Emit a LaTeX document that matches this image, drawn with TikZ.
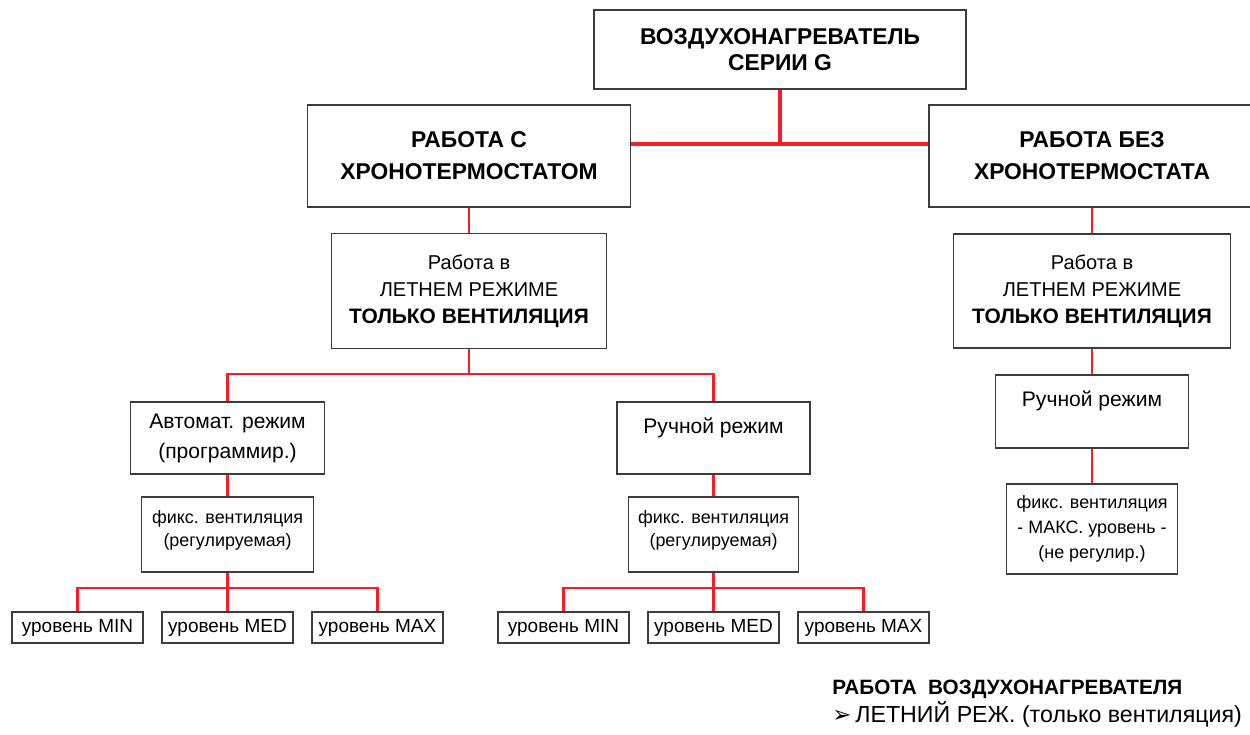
\documentclass[tikz,border=0pt]{standalone}
\usepackage{fontspec}
\setmainfont{Liberation Sans}
\newfontfamily\symfont{DejaVu Sans}
\definecolor{linkred}{RGB}{245,30,40}
\definecolor{boxline}{RGB}{60,60,60}

\begin{document}
\begin{tikzpicture}[
    box/.style={
        draw=boxline, line width=1.1pt, rectangle, fill=white,
        align=center, inner sep=0pt
    },
    link/.style={draw=linkred, line width=1.4pt},
    trunk/.style={draw=linkred, line width=1.8pt},
    level/.style={box, minimum width=2.62cm, minimum height=0.62cm,
        font=\fontsize{10.8}{13}\selectfont}
]

\useasboundingbox (0,0) rectangle (25,-14.68);

% -------------------------
% Top levels
% -------------------------

% 1. Heater (top)
\node[box, minimum width=7.44cm, minimum height=1.58cm,
      font=\fontsize{13}{14.8}\selectfont\bfseries] (Heater) at (15.6,-0.99) {
    ВОЗДУХОНАГРЕВАТЕЛЬ\\СЕРИИ G
};

% 2. With / without chronothermostat
\node[box, minimum width=6.46cm, minimum height=2.04cm,
      font=\fontsize{13}{18.2}\selectfont\bfseries] (WithTimer) at (9.38,-3.12) {
    РАБОТА С\\ХРОНОТЕРМОСТАТОМ
};
\node[box, minimum width=6.52cm, minimum height=2.04cm,
      font=\fontsize{13}{18.2}\selectfont\bfseries] (NoTimer) at (21.84,-3.12) {
    РАБОТА БЕЗ\\ХРОНОТЕРМОСТАТА
};

% 3. Summer mode boxes
\node[box, minimum width=5.5cm, minimum height=2.3cm,
      font=\fontsize{11.4}{15.5}\selectfont] (SummerA) at (9.38,-5.82) {
    Работа в\\ЛЕТНЕМ РЕЖИМЕ\\
    \fontsize{11.9}{15.5}\selectfont\bfseries ТОЛЬКО ВЕНТИЛЯЦИЯ
};
\node[box, minimum width=5.54cm, minimum height=2.28cm,
      font=\fontsize{11.4}{15.5}\selectfont] (SummerB) at (21.84,-5.82) {
    Работа в\\ЛЕТНЕМ РЕЖИМЕ\\
    \fontsize{11.9}{15.5}\selectfont\bfseries ТОЛЬКО ВЕНТИЛЯЦИЯ
};

% -------------------------
% Modes
% -------------------------
\node[box, minimum width=3.88cm, minimum height=1.44cm,
      font=\fontsize{12}{17}\selectfont] (AutoA) at (4.55,-8.76) {
    Автомат. режим\\(программир.)
};
\node[box, minimum width=3.86cm, minimum height=1.44cm,
      font=\fontsize{12}{17}\selectfont] (ManualA) at (14.27,-8.76) {
    Ручной режим\\[-8pt]\strut
};
\node[box, minimum width=3.86cm, minimum height=1.46cm,
      font=\fontsize{12}{17}\selectfont] (ManualB) at (21.84,-8.23) {
    Ручной режим\\[-8pt]\strut
};

% Ventilation boxes
\node[box, minimum width=3.44cm, minimum height=1.5cm,
      font=\fontsize{10.2}{13}\selectfont] (FixA) at (4.55,-10.69) {
    фикс. вентиляция\\(регулируемая)\\[-10pt]\strut
};
\node[box, minimum width=3.4cm, minimum height=1.5cm,
      font=\fontsize{10.2}{13}\selectfont] (FixM) at (14.27,-10.69) {
    фикс. вентиляция\\(регулируемая)\\[-10pt]\strut
};
\node[box, minimum width=3.42cm, minimum height=1.8cm,
      font=\fontsize{10.2}{14.2}\selectfont] (FixB) at (21.84,-10.58) {
    фикс. вентиляция\\- МАКС. уровень -\\(не регулир.)
};

% Levels
\node[level] (MinA) at (1.55,-12.55) {уровень MIN};
\node[level] (MedA) at (4.55,-12.55) {уровень MED};
\node[level] (MaxA) at (7.55,-12.55) {уровень MAX};
\node[level] (MinM) at (11.27,-12.55) {уровень MIN};
\node[level] (MedM) at (14.27,-12.55) {уровень MED};
\node[level] (MaxM) at (17.27,-12.55) {уровень MAX};

% Legend
\node[anchor=west, align=left, inner sep=0pt,
      font=\fontsize{13.2}{16}\selectfont] (Legend) at (16.64,-14.08) {
    {\fontsize{11.8}{16}\selectfont\bfseries РАБОТА\ \ ВОЗДУХОНАГРЕВАТЕЛЯ}\\
    {\symfont\fontsize{13}{16}\selectfont ➢}\,ЛЕТНИЙ РЕЖ. (только вентиляция)
};

% -------------------------
% Connections
% -------------------------
\coordinate (Hub) at (15.6,-2.88);
\coordinate (ForkA) at (9.38,-7.48);
\coordinate (ForkLvlA) at (4.55,-11.76);
\coordinate (ForkLvlM) at (14.27,-11.76);

\draw[trunk] (Heater.south) -- (Hub);
\draw[trunk] (Hub -| WithTimer.east) -- (Hub -| NoTimer.west);

\draw[link] (WithTimer.south) -- (SummerA.north);
\draw[link] (SummerA.south) -- (ForkA);
\draw[link] (AutoA.north) |- (ForkA) -| (ManualA.north);
\draw[link] (AutoA.south) -- (FixA.north);
\draw[link] (ManualA.south) -- (FixM.north);

\draw[link] (FixA.south) -- (ForkLvlA) -- (MedA.north);
\draw[link] (MinA.north) |- (ForkLvlA) -| (MaxA.north);
\draw[link] (FixM.south) -- (ForkLvlM) -- (MedM.north);
\draw[link] (MinM.north) |- (ForkLvlM) -| (MaxM.north);

\draw[link] (NoTimer.south) -- (SummerB.north);
\draw[link] (SummerB.south) -- (ManualB.north);
\draw[link] (ManualB.south) -- (FixB.north);

\end{tikzpicture}
\end{document}
